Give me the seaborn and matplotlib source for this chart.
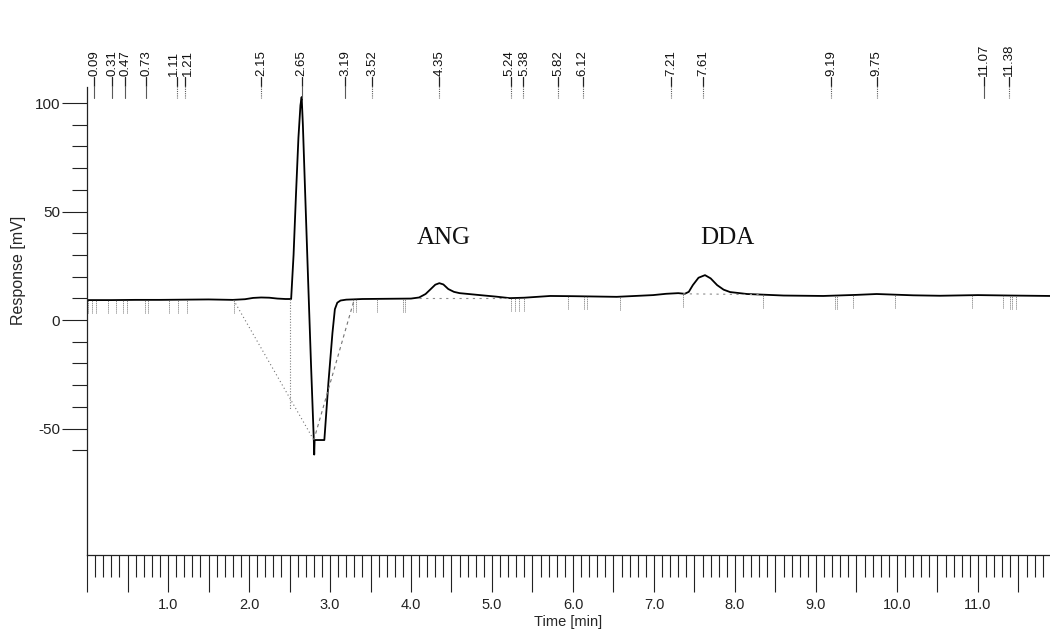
import matplotlib
matplotlib.use("Agg")
import matplotlib.pyplot as plt
import seaborn as sns
import numpy as np
import pandas as pd
from matplotlib.ticker import FixedLocator, FixedFormatter

# ---------------- data ----------------
trace_time = [0.00, 0.30, 0.60, 0.90, 1.20, 1.50, 1.80, 1.95, 2.05, 2.15, 2.25, 2.35,
              2.45, 2.52, 2.55, 2.58, 2.61, 2.635, 2.65, 2.665, 2.69, 2.73, 2.765,
              2.800, 2.805, 2.810, 2.930, 2.98, 3.03, 3.06, 3.09, 3.13, 3.20, 3.40,
              3.70, 4.00, 4.10, 4.18, 4.25, 4.30, 4.35, 4.40, 4.46, 4.53, 4.60, 4.85,
              5.05, 5.22, 5.40, 5.72, 6.00, 6.54, 6.99, 7.15, 7.30, 7.38, 7.43, 7.48,
              7.55, 7.63, 7.70, 7.78, 7.86, 7.94, 8.15, 8.35, 8.60, 9.09, 9.50, 9.75,
              10.20, 10.53, 11.00, 11.40, 11.90]
trace_mv = [9.2, 9.2, 9.3, 9.3, 9.4, 9.5, 9.3, 9.6, 10.2, 10.4, 10.3, 9.9,
            9.7, 9.7, 30.0, 58.0, 84.0, 99.0, 102.8, 90.0, 62.0, 18.0, -20.0,
            -55.3, -62.0, -55.3, -55.3, -29.0, -6.0, 5.0, 8.0, 9.0, 9.4, 9.7,
            9.8, 9.9, 10.4, 12.0, 14.5, 16.3, 17.0, 16.4, 14.3, 13.0, 12.4, 11.5,
            10.8, 10.1, 10.3, 11.1, 11.0, 10.7, 11.5, 12.1, 12.4, 12.1, 13.0, 16.1,
            19.5, 20.7, 19.2, 16.1, 14.0, 12.9, 12.0, 11.7, 11.3, 11.1, 11.6, 12.0,
            11.4, 11.2, 11.5, 11.3, 11.1]

peak_labels = ["0.09", "0.31", "0.47", "0.73", "1.11", "1.21", "2.15", "2.65", "3.19",
               "3.52", "4.35", "5.24", "5.38", "5.82", "6.12", "7.21", "7.61", "9.19",
               "9.75", "11.07", "11.38"]
peak_times = [0.09, 0.31, 0.47, 0.73, 1.11, 1.21, 2.15, 2.65, 3.19, 3.52, 4.35, 5.24,
              5.38, 5.82, 6.12, 7.21, 7.61, 9.19, 9.75, 11.07, 11.38]
peak_marker_solid = [True, True, True, True, False, False, False, True, True, False,
                     False, False, False, False, False, False, False, False, False,
                     True, False]
# small sideways nudge (min) of crowded labels so they do not print on top of each other
label_nudge = [0, 0, 0, 0, -0.035, 0.035, 0, 0, 0, 0, 0, -0.02, 0.02, 0, 0, 0, 0, 0,
               0, 0, 0]

event_times = [0.01, 0.06, 0.11, 0.26, 0.36, 0.44, 0.49, 0.72, 0.75, 1.01, 1.12, 1.23,
               1.81, 3.29, 3.32, 3.58, 3.90, 3.93, 5.24, 5.28, 5.33, 5.39, 5.94, 6.13,
               6.17, 6.58, 7.36, 8.35, 9.23, 9.26, 9.46, 9.98, 10.93, 11.31, 11.39,
               11.42, 11.47]

# construction (baseline) lines of the integrator
neg_left_t = [1.81, 2.80]
neg_left_mv = [9.2, -55.3]
neg_right_t = [2.80, 3.30]
neg_right_mv = [-55.3, 9.6]
neg_vert_t = [2.51, 2.51]
neg_vert_mv = [9.7, -41.5]
ang_base_t = [4.10, 5.24]
ang_base_mv = [10.2, 10.2]
dda_base_t = [7.36, 8.35]
dda_base_mv = [12.1, 11.7]

compound_names = ["ANG", "DDA"]
compound_t = [4.41, 7.90]
compound_mv = [37.8, 37.8]

xtick_major = [i * 0.5 for i in range(0, 24)]
xtick_minor = [i * 0.1 for i in range(1, 119)]
xtick_text = ["" if (v % 1) else ("" if v == 0 else f"{v:.1f}") for v in xtick_major]
ytick_major = [-50, 0, 50, 100]
ytick_text = ["-50", "0", "50", "100"]
ytick_minor = [-60, -40, -30, -20, -10, 10, 20, 30, 40, 60, 70, 80, 90]

# ---------------- drawing ----------------
sns.set_theme(style="ticks")
plt.rcParams["font.family"] = ["Liberation Sans", "DejaVu Sans"]
plt.rcParams["text.color"] = "#111111"
plt.rcParams["xtick.color"] = "#222222"
plt.rcParams["ytick.color"] = "#222222"

fig = plt.figure(figsize=(10.5, 6.32), dpi=100)
ax = fig.add_axes([0.0829, 0.1218, 0.9171, 0.7405])

df = pd.DataFrame({"Time": trace_time, "Response": trace_mv})
sns.lineplot(data=df, x="Time", y="Response", ax=ax, color="black", lw=1.3,
             sort=False, estimator=None)

ax.plot(neg_left_t, neg_left_mv, color="0.45", lw=0.8, ls=(0, (1, 2.5)))
ax.plot(neg_right_t, neg_right_mv, color="0.45", lw=0.8, ls=(0, (3, 3)))
ax.plot(neg_vert_t, neg_vert_mv, color="0.5", lw=0.8, ls=(0, (1, 1.5)))
ax.plot(ang_base_t, ang_base_mv, color="0.55", lw=0.8, ls=(0, (2, 4)))
ax.plot(dda_base_t, dda_base_mv, color="0.55", lw=0.8, ls=(0, (2, 4)))

ev_top = np.interp(event_times, trace_time, trace_mv)
ax.vlines(event_times, ev_top - 6.0, ev_top, colors="0.45", lw=0.7,
          linestyles=(0, (1, 1)))

for t, lab, solid, dx in zip(peak_times, peak_labels, peak_marker_solid, label_nudge):
    ax.text(t + dx, 112.6, lab, rotation=90, ha="center", va="bottom", fontsize=9.5,
            color="#111111", clip_on=False)
    ax.plot([t, t], [112.2, 108.0], color="#222222", lw=0.9, clip_on=False)
    ax.plot([t, t], [108.0, 102.4], color="0.35", lw=0.8,
            ls="-" if solid else (0, (1, 1)), clip_on=False)

for name, t, v in zip(compound_names, compound_t, compound_mv):
    ax.text(t, v, name, ha="center", va="center", fontsize=18,
            family=["Liberation Serif", "DejaVu Serif"], color="#111111")

ax.set_xlim(0, 11.89)
ax.set_ylim(-108.3, 107.4)

ax.xaxis.set_major_locator(FixedLocator(xtick_major))
ax.xaxis.set_major_formatter(FixedFormatter(xtick_text))
ax.xaxis.set_minor_locator(FixedLocator(xtick_minor))
ax.yaxis.set_major_locator(FixedLocator(ytick_major))
ax.yaxis.set_major_formatter(FixedFormatter(ytick_text))
ax.yaxis.set_minor_locator(FixedLocator(ytick_minor))

ax.tick_params(axis="x", which="major", direction="out", length=26.6, width=0.8,
               pad=4, labelsize=10.5)
ax.tick_params(axis="x", which="minor", direction="out", length=15.8, width=0.8)
ax.tick_params(axis="y", which="major", direction="out", length=18, width=0.8,
               pad=1.5, labelsize=11)
ax.tick_params(axis="y", which="minor", direction="out", length=10.8, width=0.8)

for s in ["top", "right"]:
    ax.spines[s].set_visible(False)
for s in ["left", "bottom"]:
    ax.spines[s].set_color("#222222")
    ax.spines[s].set_linewidth(0.9)

ax.set_xlabel("Time [min]", fontsize=10.5)
ax.xaxis.set_label_coords(0.5, -0.128)
ax.set_ylabel("Response [mV]", fontsize=11.5)
ax.yaxis.set_label_coords(-0.063, 0.609)

fig.savefig("out.png", dpi=100, facecolor="white")
